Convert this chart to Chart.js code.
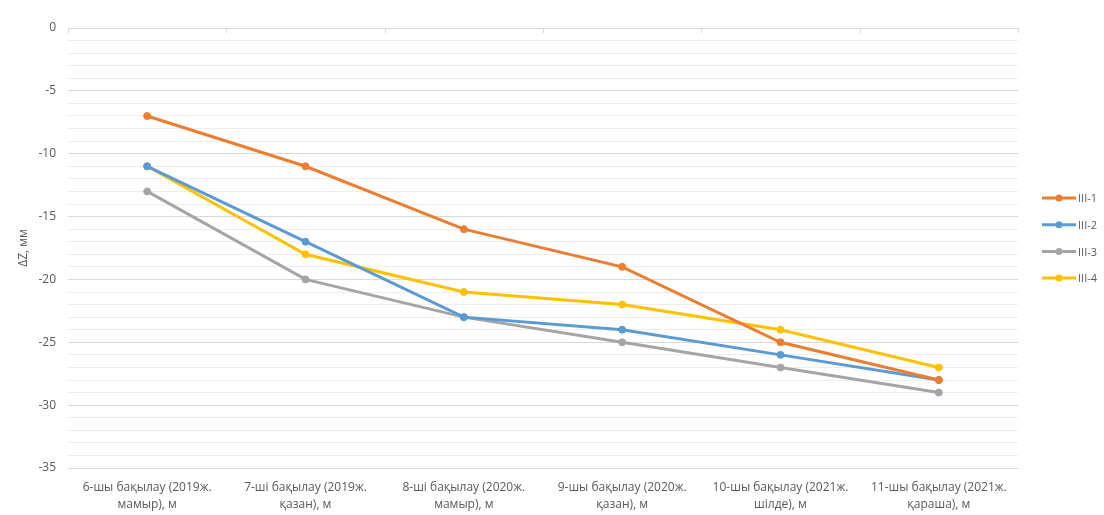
<!DOCTYPE html>
<html>
<head>
<meta charset="utf-8">
<script src="https://cdn.jsdelivr.net/npm/chart.js@4.4.1/dist/chart.umd.min.js"></script>
<style>
html,body{margin:0;padding:0;background:#fff;}
#wrap{width:1104px;height:515px;position:relative;}
</style>
</head>
<body>
<div id="wrap"><canvas id="c" width="1104" height="515"></canvas></div>
<script>
const categories = [
  ['6-шы бақылау (2019ж.', 'мамыр), м'],
  ['7-ші бақылау (2019ж.', 'қазан), м'],
  ['8-ші бақылау (2020ж.', 'мамыр), м'],
  ['9-шы бақылау (2020ж.', 'қазан), м'],
  ['10-шы бақылау (2021ж.', 'шілде), м'],
  ['11-шы бақылау (2021ж.', 'қараша), м']
];
const seriesNames = ['III-1', 'III-2', 'III-3', 'III-4'];
const s1 = [-7, -11, -16, -19, -25, -28];
const s2 = [-11, -17, -23, -24, -26, -28];
const s3 = [-13, -20, -23, -25, -27, -29];
const s4 = [-11, -18, -21, -22, -24, -27];
const colors = ['#ED7D31', '#5B9BD5', '#A5A5A5', '#FFC000'];
const yMin = -35, yMax = 0, yMajor = 5;
const yTitle = 'ΔZ, мм';

const FONT = "'Open Sans', 'Liberation Sans', sans-serif";
const TXT = '#595959';

const series = [s1, s2, s3, s4];
const datasets = series.map((d, i) => ({
  label: seriesNames[i],
  data: d,
  borderColor: colors[i],
  backgroundColor: colors[i],
  borderWidth: 3,
  pointRadius: 3.5,
  pointHoverRadius: 3.5,
  pointBorderWidth: 1,
  tension: 0,
  fill: false
}));

const extras = {
  id: 'extras',
  afterDraw(chart) {
    const ctx = chart.ctx;
    const ca = chart.chartArea;
    const x = chart.scales.x;
    ctx.save();
    ctx.strokeStyle = '#d9d9d9';
    ctx.lineWidth = 1;
    const n = chart.data.labels.length;
    const bounds = [ca.left];
    for (let i = 1; i < n; i++) bounds.push((x.getPixelForValue(i - 1) + x.getPixelForValue(i)) / 2);
    bounds.push(ca.right);
    bounds.forEach(b => {
      const px = Math.round(b) + 0.5;
      ctx.beginPath();
      ctx.moveTo(px, ca.top);
      ctx.lineTo(px, ca.top + 5);
      ctx.stroke();
    });
    const lx = 1042, lw = 34;
    const y0 = 198, dy = 26.7;
    ctx.font = '11px ' + FONT;
    ctx.textBaseline = 'middle';
    ctx.textAlign = 'left';
    chart.data.datasets.forEach((ds, i) => {
      const ly = y0 + i * dy;
      ctx.strokeStyle = ds.borderColor;
      ctx.lineWidth = 3;
      ctx.beginPath();
      ctx.moveTo(lx, ly);
      ctx.lineTo(lx + lw, ly);
      ctx.stroke();
      ctx.fillStyle = ds.borderColor;
      ctx.beginPath();
      ctx.arc(lx + lw / 2, ly, 3.5, 0, Math.PI * 2);
      ctx.fill();
      ctx.fillStyle = TXT;
      ctx.fillText(ds.label, lx + lw + 2, ly + 1);
    });
    ctx.restore();
  }
};

new Chart(document.getElementById('c'), {
  type: 'line',
  data: { labels: categories, datasets },
  options: {
    responsive: false,
    animation: false,
    devicePixelRatio: 1,
    layout: { padding: { top: 28, right: 86, bottom: 0, left: 0 } },
    plugins: { legend: { display: false }, tooltip: { enabled: false } },
    scales: {
      x: {
        type: 'category',
        offset: true,
        grid: { display: false },
        border: { display: false },
        ticks: { color: TXT, font: { family: FONT, size: 12, lineHeight: 1.4 }, maxRotation: 0, autoSkip: false, padding: 3 },
        afterFit(s) { s.height = 47; }
      },
      y: {
        min: yMin, max: yMax,
        border: { display: false },
        grid: {
          drawTicks: false,
          color: c => (c.tick.value % yMajor === 0 ? '#d9d9d9' : '#eeeeee'),
          lineWidth: 1
        },
        ticks: {
          stepSize: 1,
          autoSkip: false,
          padding: 12,
          color: TXT,
          font: { family: FONT, size: 12 },
          callback: v => (v % yMajor === 0 ? String(v) : '')
        },
        title: { display: true, text: yTitle, color: TXT, font: { family: FONT, size: 12 }, padding: { top: 16, bottom: 0 } },
        afterFit(s) { s.width = 68; }
      }
    }
  },
  plugins: [extras]
});
</script>
</body>
</html>
